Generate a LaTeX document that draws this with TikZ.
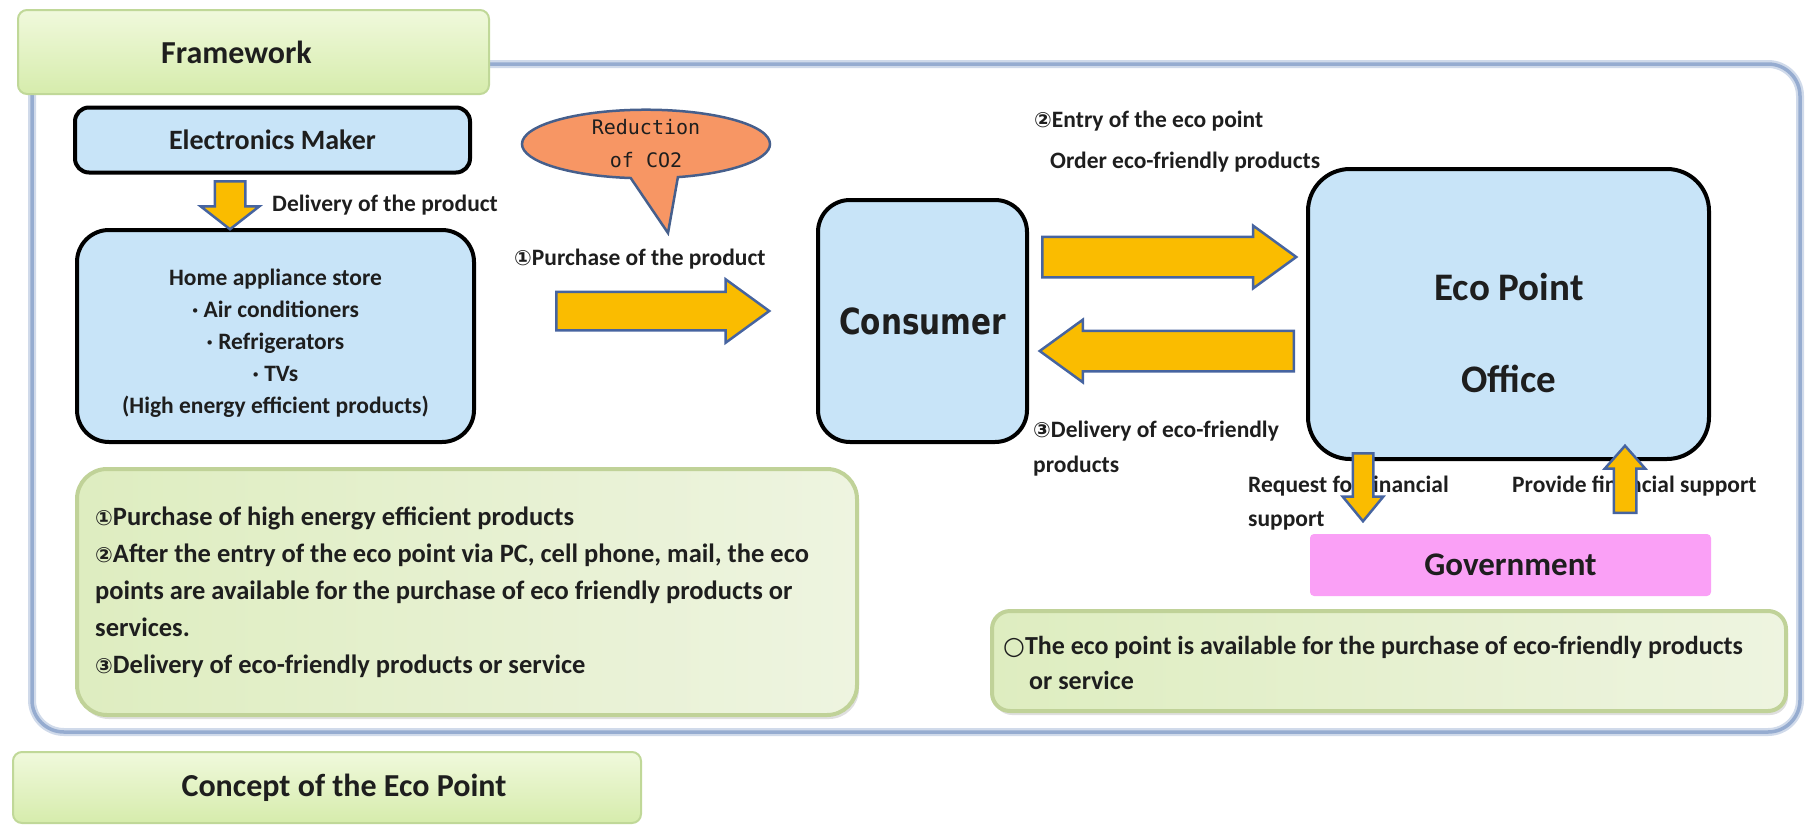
\documentclass[tikz,border=0pt]{standalone}
\usepackage{fontspec}
\setmainfont{Carlito}
\newfontfamily\symfont{DejaVu Sans}
\newfontfamily\calloutfont{DejaVu Sans Mono}
\newfontfamily\gothfont{DejaVu Sans}[FakeStretch=0.82]
\usetikzlibrary{shapes.arrows,shapes.callouts,shadows}

\definecolor{boxblue}{RGB}{200,228,248}
\definecolor{arrowfill}{RGB}{250,188,0}
\definecolor{arrowedge}{RGB}{70,100,160}
\definecolor{framecol}{RGB}{150,172,208}
\definecolor{tabtop}{RGB}{240,249,220}
\definecolor{tabbot}{RGB}{214,236,172}
\definecolor{tabedge}{RGB}{192,216,152}
\definecolor{noteleft}{RGB}{222,237,192}
\definecolor{notemid}{RGB}{204,228,158}
\definecolor{noteright}{RGB}{238,244,224}
\definecolor{noteedge}{RGB}{192,210,152}
\definecolor{govpink}{RGB}{250,160,246}
\definecolor{calloutfill}{RGB}{247,150,100}
\definecolor{calloutedge}{RGB}{70,95,140}
\definecolor{ink}{RGB}{30,30,30}

% circled numbers and marks come from DejaVu Sans
\newcommand{\cnum}[1]{{\symfont\fontsize{21}{21}\selectfont #1}}

\tikzset{
  entity/.style={draw=black, line width=4pt, fill=boxblue, text=ink, inner sep=0pt},
  tabbox/.style={draw=tabedge, line width=2pt, top color=tabtop, bottom color=tabbot,
    rounded corners=9pt, text=ink, inner sep=0pt,
    font=\fontsize{32}{36}\selectfont\bfseries},
  notebox/.style={draw=noteedge, line width=4pt, left color=noteleft, middle color=notemid,
    right color=noteright, inner sep=0pt,
    drop shadow={opacity=0.25, shadow xshift=2pt, shadow yshift=-4pt}},
  lbl/.style={text=ink, inner sep=0pt, align=left, font=\fontsize{23.5}{27}\selectfont\bfseries},
  notetext/.style={text=ink, inner sep=0pt, align=left, anchor=north west},
  fatarrow/.style={single arrow, draw=arrowedge, fill=arrowfill, line width=2.5pt,
    minimum width=0pt, anchor=tail},
}

\begin{document}
\begin{tikzpicture}[x=1pt,y=-1pt]
\useasboundingbox (0,0) rectangle (1807,825);

% outer frame of the framework section
\draw[framecol!45, line width=8pt, rounded corners=32pt] (32,64) rectangle (1800,732);
\draw[framecol, line width=3.5pt, rounded corners=32pt] (32,64) rectangle (1800,732);

% section tabs
\node[tabbox, minimum width=471pt, minimum height=84pt] (fw) at (253.5,52) {Framework\hspace*{34pt}};
\node[tabbox, minimum width=628pt, minimum height=71pt] (concept) at (327,787.5) {\hspace*{34pt}Concept of the Eco Point};

% actors
\node[entity, rounded corners=14pt, minimum width=395pt, minimum height=65pt,
      font=\fontsize{28}{32}\selectfont\bfseries] (maker) at (272.5,140) {Electronics Maker};
\node[entity, rounded corners=32pt, minimum width=397pt, minimum height=212pt] (store) at (275.5,336) {};
\node[text=ink, align=center, inner sep=0pt, font=\fontsize{23.5}{32}\selectfont\bfseries,
      anchor=north] (storetxt) at (275.5,269)
  {Home appliance store\\
   · Air conditioners\\
   · Refrigerators\\
   · TVs\\
   \hspace*{6pt}(High energy efficient products)\hspace*{6pt}};
\node[entity, rounded corners=32pt, minimum width=209pt, minimum height=242pt,
      font=\gothfont\fontsize{36}{40}\selectfont\bfseries] (consumer) at (922.5,321) {Consumer};
\node[entity, rounded corners=42pt, minimum width=401pt, minimum height=290pt] (office) at (1508.5,314) {};
\node[text=ink, align=center, inner sep=0pt, font=\fontsize{39}{92}\selectfont\bfseries]
  (officetxt) at (1509,333) {Eco Point\\Office};
\node[fill=govpink, rounded corners=4pt, minimum width=401pt, minimum height=62pt, inner sep=0pt,
      text=ink, font=\fontsize{33}{38}\selectfont\bfseries] (gov) at (1510.5,565) {Government};

% speech bubble
\coordinate (co2tip) at (668,233);
\node[ellipse callout, callout absolute pointer={(co2tip)}, callout pointer arc=22,
      draw=calloutedge, line width=2.5pt, fill=calloutfill,
      minimum width=248pt, minimum height=68pt, inner sep=0pt, align=center,
      font=\calloutfont\fontsize{20}{33}\selectfont, text=ink] (co2) at (646,144)
  {Reduction\\of CO2};

% block arrows between the actors
\node[fatarrow, shape border rotate=270, minimum height=48pt, inner sep=14pt,
      single arrow head extend=14pt, single arrow tip angle=104] (a0) at (230,180) {};
\node[fatarrow, minimum height=213pt, inner sep=18pt,
      single arrow head extend=12.5pt, single arrow tip angle=72] (a1) at (555,311) {};
\node[fatarrow, minimum height=254pt, inner sep=19pt,
      single arrow head extend=11pt, single arrow tip angle=72] (a2) at (1041,257) {};
\node[fatarrow, shape border rotate=180, minimum height=254pt, inner sep=19pt,
      single arrow head extend=11pt, single arrow tip angle=72] (a3) at (1295,351) {};

% labels
\node[lbl, anchor=west] (l0) at (272,205) {Delivery of the product};
\node[lbl, anchor=west] (l1) at (514,259) {\cnum{①}Purchase of the product};
\node[lbl, anchor=north west, font=\fontsize{23.5}{41}\selectfont\bfseries] (l2) at (1034,111)
  {\cnum{②}Entry of the eco point\\\hspace*{16pt}Order eco-friendly products};
\node[lbl, anchor=north west, font=\fontsize{23.5}{35}\selectfont\bfseries] (l3) at (1033,421)
  {\cnum{③}Delivery of eco-friendly\\products};
\node[lbl, anchor=north west, font=\fontsize{23.5}{34}\selectfont\bfseries] (l4) at (1248,476)
  {Request for financial\\support};
\node[lbl, anchor=west] (l5) at (1512,486) {Provide financial support};

% funding arrows drawn over their labels
\node[fatarrow, shape border rotate=270, minimum height=68pt, inner sep=9pt,
      single arrow head extend=10pt, single arrow tip angle=79] (a4) at (1363,452) {};
\node[fatarrow, shape border rotate=90, minimum height=67pt, inner sep=10pt,
      single arrow head extend=9pt, single arrow tip angle=83] (a5) at (1625,514) {};

% explanatory notes
\node[notebox, rounded corners=30pt, minimum width=780pt, minimum height=246pt] (noteL) at (467,592) {};
\node[notetext, font=\fontsize{26.5}{37}\selectfont\bfseries] (noteLtxt) at (95,507)
  {\cnum{①}Purchase of high energy efficient products\\
   \cnum{②}After the entry of the eco point via PC, cell phone, mail, the eco\\
   points are available for the purchase of eco friendly products or\\
   services.\\
   \cnum{③}Delivery of eco-friendly products or service};
\node[notebox, rounded corners=18pt, minimum width=794pt, minimum height=100pt] (noteR) at (1389,661) {};
\node[notetext, font=\fontsize{26}{35}\selectfont\bfseries] (noteRtxt) at (1003,636)
  {{\symfont\fontsize{25}{25}\selectfont ○}The eco point is available for the purchase of eco-friendly products\\
   \hspace*{26pt}or service};

\end{tikzpicture}
\end{document}
